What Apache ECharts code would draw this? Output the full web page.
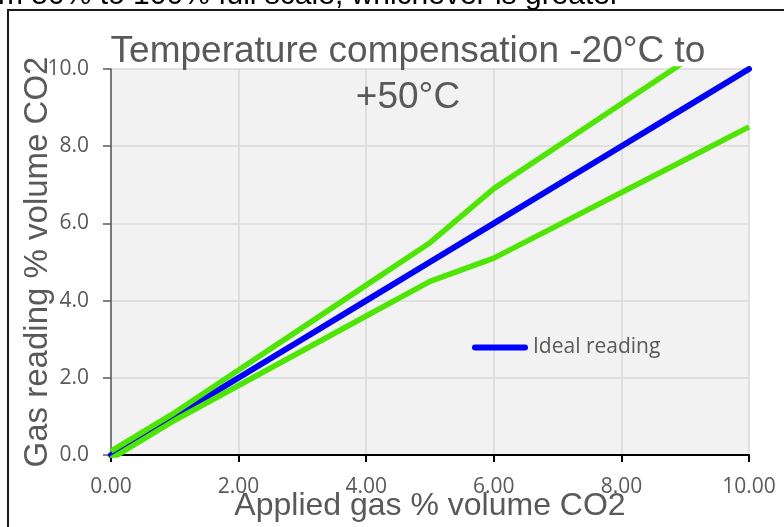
<!DOCTYPE html>
<html>
<head>
<meta charset="utf-8">
<script src="https://cdn.jsdelivr.net/npm/echarts@6/dist/echarts.min.js"></script>
<style>
html,body{margin:0;padding:0;background:#fff;}
#c{width:784px;height:527px;}
</style>
</head>
<body>
<div id="c"></div>
<script>
// Data
var appliedGas = [0, 1, 2, 3, 4, 5, 6, 7, 8, 9, 10];
var idealReading = [0, 1, 2, 3, 4, 5, 6, 7, 8, 9, 10];
var upperLimit = [0.1, 1.1, 2.2, 3.3, 4.4, 5.5, 6.9, 8.0, 9.1, 10.2, 11.3];
var lowerLimit = [-0.1, 0.9, 1.8, 2.7, 3.6, 4.5, 5.1, 5.95, 6.8, 7.65, 8.5];
var titleText = 'Temperature compensation -20°C to\n+50°C';
var headerText = 'from 50% to 100% full scale, whichever is greater';
var xName = 'Applied gas % volume CO2';
var yName = 'Gas reading % volume CO2';

function pairs(xs, ys) { return xs.map(function (x, i) { return [x, ys[i]]; }); }

var chart = echarts.init(document.getElementById('c'), null, {renderer: 'canvas'});
var GREEN = '#4ce600';
chart.setOption({
  animation: false,
  backgroundColor: '#ffffff',
  graphic: [
    {type: 'rect', z: -10, silent: true,
      shape: {x: 8, y: 10, width: 820, height: 560},
      style: {fill: 'none', stroke: '#1a1a1a', lineWidth: 2}},
    {type: 'text', silent: true,
      style: {text: headerText, x: 620, y: -4, textAlign: 'right', textVerticalAlign: 'middle',
        font: '30px "Liberation Sans", Arial, sans-serif', fill: '#000000'}}
  ],
  title: {
    text: titleText,
    left: 403, top: 24, textAlign: 'center',
    textStyle: {fontFamily: '"Liberation Sans", Arial, sans-serif', fontSize: 37, fontWeight: 'normal',
      color: '#595959', lineHeight: 46}
  },
  legend: {
    data: ['Ideal reading'],
    left: 467, top: 332,
    padding: 5,
    itemWidth: 56, itemHeight: 6, itemGap: 5,
    icon: 'path://M3,0 L53,0 A3,3 0 0 1 53,6 L3,6 A3,3 0 0 1 3,0 Z',
    itemStyle: {color: '#0000ff'},
    textStyle: {fontFamily: '"Open Sans", sans-serif', fontSize: 21, color: '#595959'}
  },
  grid: {left: 111, right: 35, top: 69, bottom: 72, show: true, backgroundColor: '#f2f2f2', borderWidth: 0,
    outerBoundsMode: 'none', containLabel: false},
  xAxis: {
    type: 'value', min: 0, max: 10, interval: 2,
    name: xName, nameLocation: 'middle', nameGap: 35, nameMoveOverlap: false,
    nameTextStyle: {fontFamily: '"Liberation Sans", Arial, sans-serif', fontSize: 32, color: '#595959'},
    axisLine: {show: true, lineStyle: {color: '#000000', width: 2}},
    axisTick: {show: true, length: 7, lineStyle: {color: '#000000', width: 2}},
    axisLabel: {margin: 22, formatter: function (v) { return v.toFixed(2); },
      fontFamily: '"Open Sans", sans-serif', fontSize: 21, color: '#595959'},
    splitLine: {show: true, lineStyle: {color: '#d9d9d9', width: 1.5}}
  },
  yAxis: {
    type: 'value', min: 0, max: 10, interval: 2,
    name: yName, nameLocation: 'middle', nameGap: 57, nameMoveOverlap: false,
    nameTextStyle: {fontFamily: '"Liberation Sans", Arial, sans-serif', fontSize: 33, color: '#595959'},
    axisLine: {show: true, lineStyle: {color: '#595959', width: 1.5}},
    axisTick: {show: true, length: 8, lineStyle: {color: '#595959', width: 1.5}},
    axisLabel: {margin: 22, formatter: function (v) { return v.toFixed(1); },
      fontFamily: '"Open Sans", sans-serif', fontSize: 21, color: '#595959'},
    splitLine: {show: true, lineStyle: {color: '#d9d9d9', width: 1.5}}
  },
  series: [
    {name: 'Ideal reading', type: 'line', data: pairs(appliedGas, idealReading), symbol: 'none',
      lineStyle: {color: '#0000ff', width: 6, cap: 'round'}, itemStyle: {color: '#0000ff'}, z: 2},
    {name: 'Upper limit', type: 'line', data: pairs(appliedGas, upperLimit), symbol: 'none',
      lineStyle: {color: GREEN, width: 5.5}, itemStyle: {color: GREEN}, z: 3},
    {name: 'Lower limit', type: 'line', data: pairs(appliedGas, lowerLimit), symbol: 'none',
      lineStyle: {color: GREEN, width: 5.5}, itemStyle: {color: GREEN}, z: 3}
  ]
});
</script>
</body>
</html>
